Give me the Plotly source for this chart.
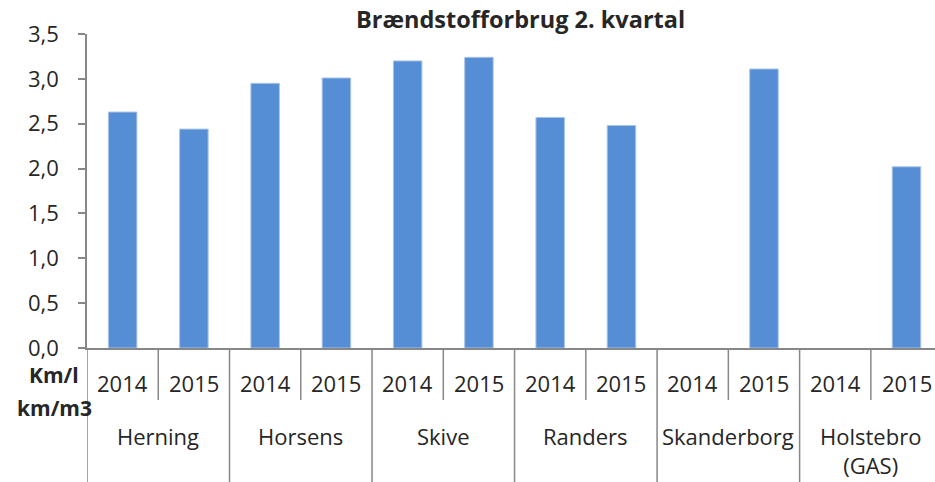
import plotly.graph_objects as go

cities = ["Herning", "Horsens", "Skive", "Randers", "Skanderborg", "Holstebro<br>(GAS)"]
years = ["2014", "2015"]
values = [2.63, 2.44, 2.95, 3.01, 3.20, 3.24, 2.57, 2.48, None, 3.11, None, 2.02]
title = "Brændstofforbrug 2. kvartal"
unit_lines = ["Km/l", "km/m3"]

FONT = "Open Sans"
TXT = "#262626"
AX = "#878787"

W, H = 935, 482
ML, MT, MB = 87, 34, 134.3

n = len(values)
xs = list(range(n))

fig = go.Figure(go.Bar(
    x=xs, y=values, width=0.4,
    marker=dict(color="#558ed5", line=dict(color="#a9c4ea", width=1)),
    hoverinfo="y",
))

H_PLOT = H - MT - MB
W_PLOT = W - ML

def py(px_below):
    return -px_below / H_PLOT

def px_to_paper_x(px_abs):
    return (px_abs - ML) / W_PLOT

annotations = []
shapes = []
for i in range(n):
    annotations.append(dict(x=i, y=0, xref="x", yref="paper", text=years[i % 2],
                            showarrow=False, xanchor="center", yanchor="middle", yshift=-35,
                            font=dict(family=FONT, size=22, color=TXT)))
for g, c in enumerate(cities):
    annotations.append(dict(x=2 * g + 0.5, y=0, xref="x", yref="paper", text=c,
                            showarrow=False, xanchor="center", yanchor="top", yshift=-71,
                            font=dict(family=FONT, size=22, color=TXT)))
    shapes.append(dict(type="line", xref="x", yref="paper", x0=2 * g - 0.5, x1=2 * g - 0.5,
                       y0=0, y1=py(140), line=dict(color=AX, width=1.5)))
    shapes.append(dict(type="line", xref="x", yref="paper", x0=2 * g + 0.5, x1=2 * g + 0.5,
                       y0=0, y1=py(52), line=dict(color=AX, width=1.5)))

annotations.append(dict(x=px_to_paper_x(54), y=0, xref="paper", yref="paper", text="<b>%s</b>" % unit_lines[0],
                        showarrow=False, xanchor="center", yanchor="middle", yshift=-27,
                        font=dict(family=FONT, size=21, color=TXT)))
annotations.append(dict(x=px_to_paper_x(54), y=0, xref="paper", yref="paper", text="<b>%s</b>" % unit_lines[1],
                        showarrow=False, xanchor="center", yanchor="middle", yshift=-60,
                        font=dict(family=FONT, size=21, color=TXT)))
annotations.append(dict(x=px_to_paper_x(520), y=1, xref="paper", yref="paper", text="<b>%s</b>" % title,
                        showarrow=False, xanchor="center", yanchor="middle", yshift=15,
                        font=dict(family=FONT, size=23.5, color=TXT)))

fig.update_layout(
    width=W, height=H,
    margin=dict(l=ML, r=0, t=MT, b=MB, pad=0),
    paper_bgcolor="white", plot_bgcolor="white",
    separators=",.",
    showlegend=False,
    annotations=annotations,
    shapes=shapes,
    font=dict(family=FONT, color=TXT),
)
fig.update_xaxes(range=[-0.5, 11.4], showticklabels=False, showgrid=False, zeroline=False,
                 showline=True, linecolor=AX, linewidth=1.5, ticks="")
fig.update_yaxes(range=[0, 3.5], dtick=0.5, tickformat=".1f", showgrid=False, zeroline=False,
                 showline=True, linecolor=AX, linewidth=1.5, ticks="outside", ticklen=7,
                 tickcolor=AX, tickwidth=1.5, ticklabelstandoff=15,
                 tickfont=dict(family=FONT, size=22, color=TXT))

fig.write_html("out.html", config={"displayModeBar": False},
               post_script="document.body.style.margin='0';document.body.style.overflow='hidden';")
